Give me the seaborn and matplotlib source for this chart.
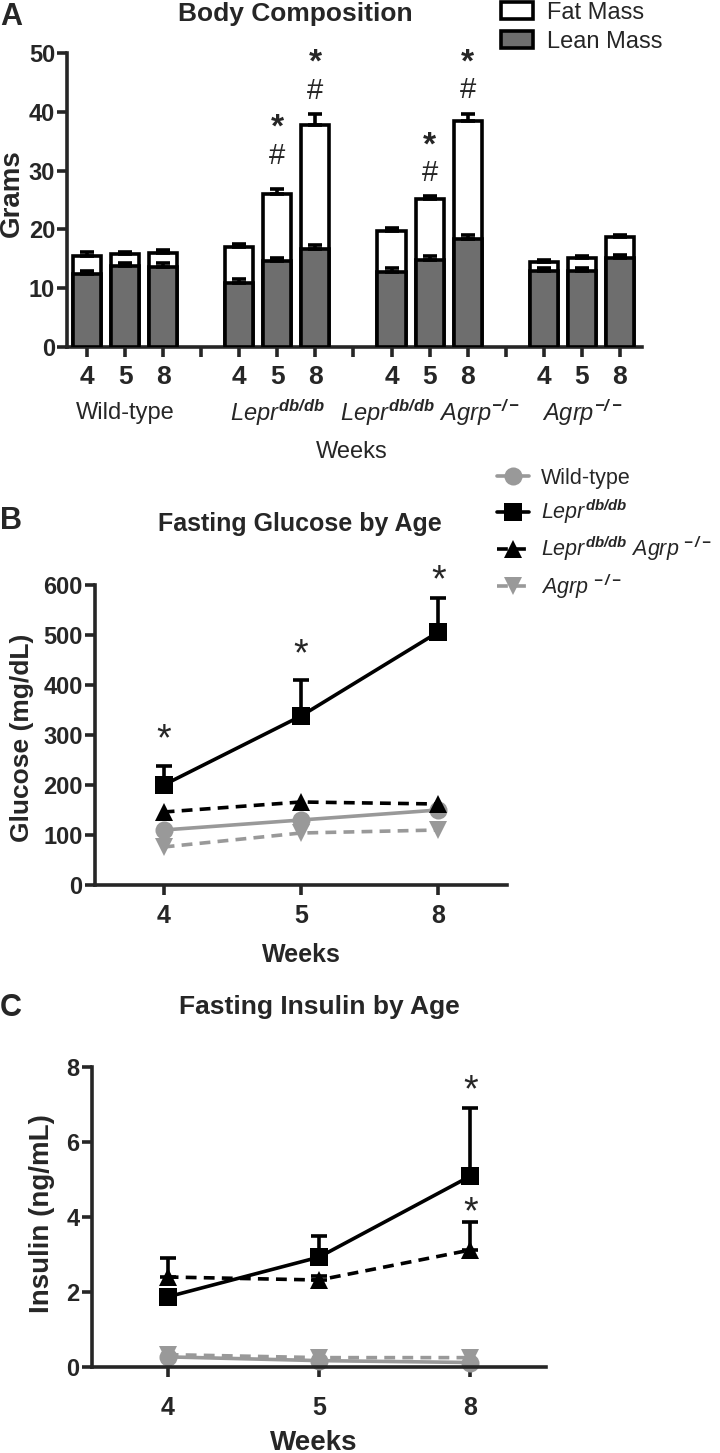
import numpy as np
import pandas as pd
import matplotlib
matplotlib.use('Agg')
import matplotlib.pyplot as plt
import matplotlib.transforms as mtransforms
import seaborn as sns
from matplotlib.patches import Patch

sns.set_style('ticks')
plt.rcParams['font.family'] = ['Liberation Sans', 'DejaVu Sans']
plt.rcParams['mathtext.fontset'] = 'custom'
plt.rcParams['mathtext.rm'] = 'Liberation Sans'
plt.rcParams['mathtext.it'] = 'Liberation Sans:italic'
plt.rcParams['mathtext.bf'] = 'Liberation Sans:italic:bold'

# ---- data: panel A (body composition, grams) ----
weeks = ['4', '5', '8']
groups = ['Wild-type', r'$\mathit{Lepr}^{\mathbf{db/db}}$',
          r'$\mathit{Lepr}^{\mathbf{db/db}}\ \mathit{Agrp}^{\mathbf{-/-}}$',
          r'$\mathit{Agrp}^{\mathbf{-/-}}$']
total_mass = [15.5, 15.8, 16.0, 17.0, 26.1, 37.8, 19.7, 25.1, 38.4, 14.5, 15.1, 18.7]
total_err = [0.6, 0.4, 0.5, 0.5, 0.7, 1.8, 0.5, 0.5, 1.3, 0.3, 0.3, 0.4]
lean_mass = [12.4, 13.7, 13.6, 10.9, 14.6, 16.6, 12.8, 14.8, 18.4, 13.0, 13.0, 15.1]
lean_err = [0.6, 0.6, 0.7, 0.6, 0.6, 0.8, 0.6, 0.7, 0.7, 0.4, 0.5, 0.6]
# significance marks: (bar index, symbol, y)
marks_a = [(4, '#', 32.5), (4, '*', 38.5), (5, '#', 43.6), (5, '*', 49.5),
           (7, '#', 29.6), (7, '*', 35.5), (8, '#', 43.7), (8, '*', 49.6)]

# ---- data: panels B and C ----
genotypes = ['Wild-type', r'$\mathit{Lepr}^{\mathbf{db/db}}$',
             r'$\mathit{Lepr}^{\mathbf{db/db}}\ \mathit{Agrp}^{\mathbf{\,-/-}}$',
             r'$\mathit{Agrp}^{\mathbf{\,-/-}}$']
glucose = {
    genotypes[0]: [110, 130, 150],
    genotypes[1]: [200, 338, 506],
    genotypes[2]: [146, 166, 162],
    genotypes[3]: [76, 104, 110],
}
glucose_err = {genotypes[1]: [38, 72, 68]}
glucose_stars = [(0, 306), (1, 476), (2, 623)]

insulin = {
    genotypes[0]: [0.27, 0.17, 0.12],
    genotypes[1]: [1.87, 2.93, 5.09],
    genotypes[2]: [2.40, 2.32, 3.12],
    genotypes[3]: [0.33, 0.25, 0.25],
}
insulin_err = {genotypes[1]: [0.15, 0.56, 1.82], genotypes[2]: [0.50, 0.10, 0.75]}
insulin_stars = [(2, 7.57), (2, 4.32)]

gray = '#999999'
dark = '#6e6e6e'
lw = 2.6

fig = plt.figure(figsize=(7.2, 14.53), dpi=100)
W, H = 720, 1453

def px_axes(left, top, right, bottom):
    return fig.add_axes([left / W, 1 - bottom / H, (right - left) / W, (bottom - top) / H])

axA = px_axes(67, 53, 642, 347)
axB = px_axes(95, 585, 507, 885)
axC = px_axes(92, 1067, 546, 1367)

def star_text(ax, x, y, s, fs, **kw):
    # shift down so the glyph ink (not the line box) is centred on y
    tr = mtransforms.offset_copy(ax.transData, fig=fig, y=-0.22 * fs, units='points')
    ax.text(x, y, s, ha='center', va='center', fontsize=fs, transform=tr, clip_on=False, **kw)

# ---------------- Panel A ----------------
slots = [g * 4 + w for g in range(4) for w in range(3)]
df_a = pd.DataFrame({'slot': slots, 'total': total_mass, 'lean': lean_mass})
sns.barplot(data=df_a, x='slot', y='total', native_scale=True, width=0.74, color='white',
            saturation=1, edgecolor='black', linewidth=lw, ax=axA, zorder=2)
sns.barplot(data=df_a, x='slot', y='lean', native_scale=True, width=0.74, color=dark,
            saturation=1, edgecolor='black', linewidth=lw, ax=axA, zorder=3)
axA.errorbar(slots, total_mass, yerr=[np.zeros(12), total_err], fmt='none', ecolor='black',
             elinewidth=lw, capsize=5, capthick=lw, zorder=4)
axA.errorbar(slots, lean_mass, yerr=[np.zeros(12), lean_err], fmt='none', ecolor='black',
             elinewidth=lw, capsize=5, capthick=lw, zorder=4)
for i, sym, y in marks_a:
    if sym == '*':
        star_text(axA, slots[i], y, sym, 24, fontweight='bold')
    else:
        axA.text(slots[i], y, sym, ha='center', va='center', fontsize=21)

axA.set_xlim(-0.525, 14.58)
axA.set_ylim(0, 50)
axA.set_xticks(range(15))
axA.set_xticklabels([weeks[s % 4] if s % 4 < 3 else '' for s in range(15)],
                    fontsize=19, fontweight='bold')
axA.set_yticks([0, 10, 20, 30, 40, 50])
axA.set_yticklabels(['0', '10', '20', '30', '40', '50'], fontsize=17, fontweight='bold')
axA.tick_params(axis='x', length=7, width=lw, pad=6)
axA.tick_params(axis='y', length=7, width=lw, pad=1.5)
for g, name in enumerate(groups):
    axA.text(g * 4 + 1, -0.225, name, transform=axA.get_xaxis_transform(),
             ha='center', va='center', fontsize=17)
axA.set_xlabel('Weeks', fontsize=17, va='center')
axA.xaxis.set_label_coords(0.496, -0.357)
axA.set_ylabel('Grams', fontsize=20, fontweight='bold', va='center')
axA.yaxis.set_label_coords(-0.096, 0.524)
axA.legend(handles=[Patch(facecolor='white', edgecolor='black', linewidth=lw),
                    Patch(facecolor=dark, edgecolor='black', linewidth=lw)],
           labels=['Fat Mass', 'Lean Mass'], loc='upper left',
           bbox_to_anchor=((501 - 67) / 575, (347 - 2) / 294), frameon=False,
           fontsize=17, handlelength=1.35, handleheight=0.75, handletextpad=0.6,
           labelspacing=0.3, borderaxespad=0, borderpad=0)
sns.despine(ax=axA)
for s in ['left', 'bottom']:
    axA.spines[s].set_linewidth(lw)

# ---------------- Panels B and C ----------------
palette = [gray, 'black', 'black', gray]
marker_list = ['o', 's', '^', 'v']
dash_list = ['', '', (3, 2), (3, 2)]

def line_panel(ax, values, errs, stars, ylim, yticks, legend):
    long = pd.DataFrame([(g, i, v) for g in genotypes for i, v in enumerate(values[g])],
                        columns=['genotype', 'pos', 'value'])
    sns.lineplot(data=long, x='pos', y='value', hue='genotype', style='genotype',
                 hue_order=genotypes, style_order=genotypes, palette=palette,
                 markers=marker_list, dashes=dash_list, markersize=13, linewidth=lw,
                 markeredgewidth=0, errorbar=None, legend=legend, ax=ax, clip_on=False)
    for g, e in errs.items():
        ax.errorbar(range(3), values[g], yerr=[np.zeros(3), e], fmt='none', ecolor='black',
                    elinewidth=lw, capsize=5.5, capthick=lw, zorder=1, clip_on=False)
    for x, y in stars:
        star_text(ax, x, y, '*', 27)
    ax.set_xlim(-0.5, 2.5)
    ax.set_ylim(*ylim)
    ax.set_xticks(range(3))
    ax.set_xticklabels(weeks, fontsize=18, fontweight='bold')
    ax.set_yticks(yticks)
    ax.set_yticklabels([str(t) for t in yticks], fontsize=17, fontweight='bold')
    ax.tick_params(axis='x', length=7, width=lw)
    ax.tick_params(axis='y', length=7, width=lw, pad=2)
    sns.despine(ax=ax)
    for s in ['left', 'bottom']:
        ax.spines[s].set_linewidth(lw)

line_panel(axB, glucose, glucose_err, glucose_stars, (0, 600), list(range(0, 700, 100)), True)
axB.tick_params(axis='x', pad=7)
axB.set_xlabel('Weeks', fontsize=18, fontweight='bold', va='center')
axB.xaxis.set_label_coords(0.502, -0.233)
axB.set_ylabel('Glucose (mg/dL)', fontsize=19, fontweight='bold', va='center')
axB.yaxis.set_label_coords(-0.177, 0.49)
sns.move_legend(axB, 'upper left', bbox_to_anchor=((497 - 95) / 412, (885 - 468) / 300),
                title=None, frameon=False, fontsize=15.5, handlelength=1.5,
                handletextpad=0.55, labelspacing=0.4, borderaxespad=0, borderpad=0)

line_panel(axC, insulin, insulin_err, insulin_stars, (0, 8), [0, 2, 4, 6, 8], False)
axC.tick_params(axis='x', pad=14)
axC.set_xlabel('Weeks', fontsize=20, fontweight='bold', va='center')
axC.xaxis.set_label_coords(0.489, -0.253)
axC.set_ylabel('Insulin (ng/mL)', fontsize=20, fontweight='bold', va='center')
axC.yaxis.set_label_coords(-0.11, 0.513)

# titles and panel letters
fig.text(295 / W, 1 - 14 / H, 'Body Composition', ha='center', va='center',
         fontsize=19, fontweight='bold')
fig.text(300 / W, 1 - 524 / H, 'Fasting Glucose by Age', ha='center', va='center',
         fontsize=18, fontweight='bold')
fig.text(319 / W, 1 - 1007 / H, 'Fasting Insulin by Age', ha='center', va='center',
         fontsize=19, fontweight='bold')
fig.text(0, 1 - 17 / H, 'A', ha='left', va='center', fontsize=22, fontweight='bold')
fig.text(0, 1 - 521 / H, 'B', ha='left', va='center', fontsize=22, fontweight='bold')
fig.text(0, 1 - 1008 / H, 'C', ha='left', va='center', fontsize=22, fontweight='bold')

fig.savefig('out.png', dpi=100)
